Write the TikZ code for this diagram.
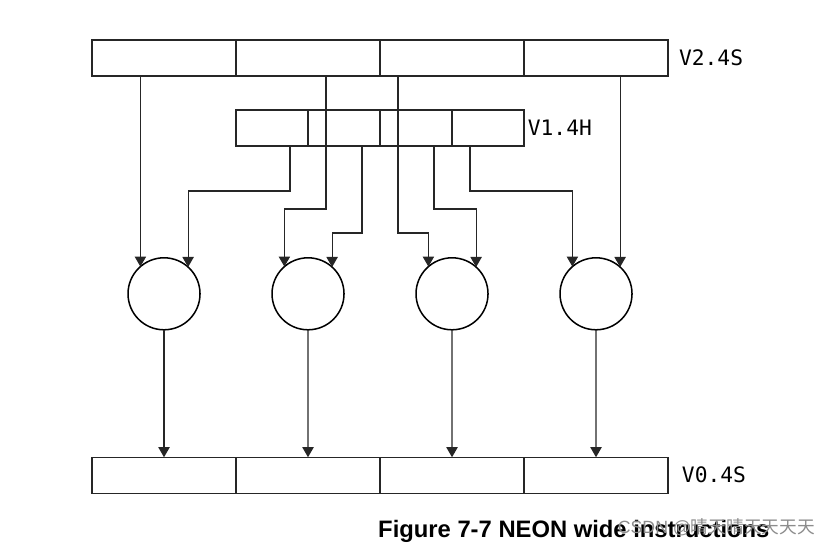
\documentclass[tikz,border=0pt]{standalone}
\usepackage{fontspec}
\setmonofont{DejaVu Sans Mono}
\setsansfont{Liberation Sans}
\newfontfamily\cjkfont{Noto Sans CJK SC}
\usetikzlibrary{arrows.meta,positioning,calc}
\tikzstyle{lane} = [rectangle, draw=black!85, line width=1.1pt, minimum width=4cm, minimum height=1cm, inner sep=0pt, outer sep=0pt]
\tikzstyle{half} = [rectangle, draw=black!85, line width=1.1pt, minimum width=2cm, minimum height=1cm, inner sep=0pt, outer sep=0pt]
\tikzstyle{op} = [circle, draw, line width=1.2pt, minimum size=2cm, inner sep=0pt, outer sep=0pt]
\tikzstyle{reglabel} = [anchor=west, inner sep=0pt, font=\ttfamily\fontsize{16.8}{20}\selectfont]
\tikzstyle{line} = [draw=black!85, line width=0.85pt, -{Triangle[width=9pt,length=8pt]}]

\begin{document}
\begin{tikzpicture}
    \useasboundingbox (0,0) rectangle (23.25,-15.222);
    % source register V2
    \node [lane] (v2a) at (4.556,-1.611) {};
    \node [lane, right=0cm of v2a] (v2b) {};
    \node [lane, right=0cm of v2b] (v2c) {};
    \node [lane, right=0cm of v2c] (v2d) {};
    \node [reglabel, right=0.3cm of v2d] (v2lab) {V2.4S};
    % source register V1, half width lanes
    \node [half, below right=0.944cm and 0cm of v2b.south west] (v1a) {};
    \node [half, right=0cm of v1a] (v1b) {};
    \node [half, right=0cm of v1b] (v1c) {};
    \node [half, right=0cm of v1c] (v1d) {};
    \node [reglabel, right=0.1cm of v1d] (v1lab) {V1.4H};
    % operations
    \node [op, below=5.05cm of v2a] (c0) {};
    \node [op, right=2cm of c0] (c1) {};
    \node [op, right=2cm of c1] (c2) {};
    \node [op, right=2cm of c2] (c3) {};
    % destination register V0
    \node [lane, below=3.54cm of c0] (v0a) {};
    \node [lane, right=0cm of v0a] (v0b) {};
    \node [lane, right=0cm of v0b] (v0c) {};
    \node [lane, right=0cm of v0c] (v0d) {};
    \node [reglabel, right=0.38cm of v0d] (v0lab) {V0.4S};
    % V2 lanes into the operations
    \path [line] (c0.131.8 |- v2a.south) -- (c0.131.8);
    \path [line] ($(v2b.south)+(0.5,0)$) -- ++(0,-3.694) -| (c1.131.8);
    \path [line] ($(v2c.south)+(-1.5,0)$) -- ++(0,-4.361) -| (c2.131.8);
    \path [line] (c3.48.2 |- v2d.south) -- (c3.48.2);
    % V1 lanes into the operations
    \path [line] ($(v1a.south)+(0.5,0)$) -- ++(0,-1.25) -| (c0.48.2);
    \path [line] ($(v1b.south)+(0.5,0)$) -- ++(0,-2.417) -| (c1.48.2);
    \path [line] ($(v1c.south)+(0.5,0)$) -- ++(0,-1.75) -| (c2.48.2);
    \path [line] ($(v1d.south)+(-0.5,0)$) -- ++(0,-1.25) -| (c3.131.8);
    % results
    \path [line] (c0.south) -- (v0a.north);
    \path [line] (c1.south) -- (v0b.north);
    \path [line] (c2.south) -- (v0c.north);
    \path [line] (c3.south) -- (v0d.north);
    \node [font=\sffamily\bfseries\fontsize{18.8}{22}\selectfont, inner sep=0pt] (caption) at (15.94,-14.75) {Figure 7-7 NEON wide instructions};
    \node [text=black!45, font=\fontsize{14}{16}\selectfont, inner sep=0pt] (mark) at (19.9,-14.64) {\sffamily CSDN @\cjkfont 晴天晴天天天天};
\end{tikzpicture}
\end{document}
